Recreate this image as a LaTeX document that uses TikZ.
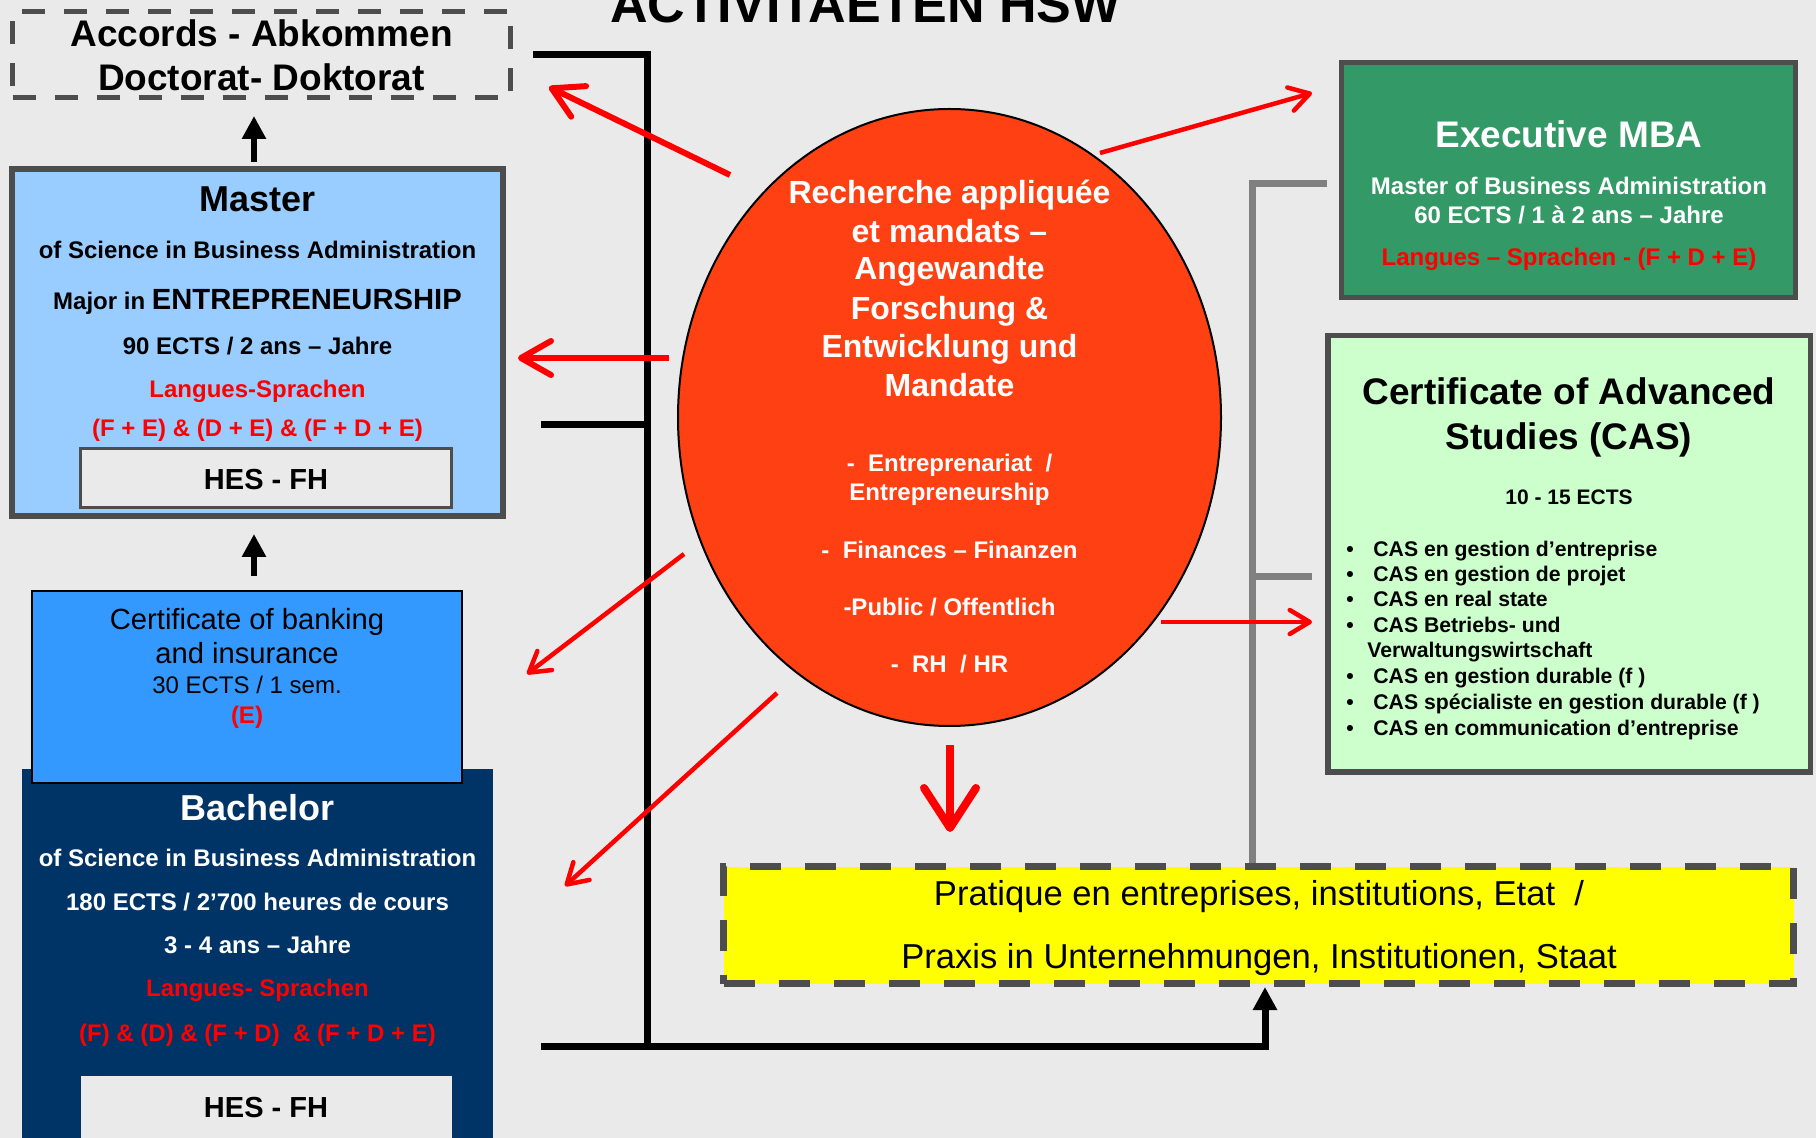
\documentclass[tikz,border=0pt]{standalone}
\usepackage{fontspec}
\setmainfont{Liberation Sans}
\usetikzlibrary{shapes.geometric,arrows.meta}

\definecolor{bgcol}{HTML}{EAEAEA}
\definecolor{boxgray}{HTML}{4D4D4D}
\definecolor{linegray}{HTML}{808080}
\definecolor{masterblue}{HTML}{99CCFF}
\definecolor{certblue}{HTML}{3399FF}
\definecolor{navy}{HTML}{003366}
\definecolor{execgreen}{HTML}{339966}
\definecolor{casgreen}{HTML}{CCFFCC}
\definecolor{rescol}{HTML}{FF4013}
\definecolor{praxyellow}{HTML}{FFFF00}

\begin{document}
\begin{tikzpicture}[x=0.5pt,y=-0.5pt,
  box/.style={draw=boxgray,line width=3pt},
  hesbox/.style={fill=bgcol,minimum width=185.5pt},
  txt/.style={inner sep=0pt,anchor=base},
  head/.style={txt,font=\bfseries\fontsize{18}{20}\selectfont},
  bold/.style={txt,font=\bfseries\fontsize{12}{14}\selectfont},
  hes/.style={txt,font=\bfseries\fontsize{14.5}{16}\selectfont},
  castxt/.style={txt,font=\bfseries\fontsize{10.6}{12}\selectfont},
  blackline/.style={line width=3.5pt},
  grayline/.style={draw=linegray,line width=3.5pt},
  uparrow/.style={line width=3pt,-{Triangle[length=11.5pt,width=11.5pt]}},
  bigred/.style={draw=red,line width=3pt,-{Straight Barb[length=15pt,width=17pt,round]}},
  thinred/.style={draw=red,line width=2.25pt,-{Straight Barb[length=10pt,width=12pt,round]}}]
\useasboundingbox (0,0) rectangle (1816,1138);
\clip (0,0) rectangle (1816,1138);
\fill[bgcol] (0,0) rectangle (1816,1138);

% title
\node[txt,font=\bfseries\fontsize{26}{28}\selectfont] (title) at (865.5,22.7) {ACTIVITAETEN HSW};

% left column
\node[draw=boxgray,line width=2.5pt,dash pattern=on 11.5pt off 9.5pt,
  minimum width=249pt,minimum height=43pt] (accords) at (261.5,54.5) {};
\node[txt,font=\bfseries\fontsize{18.5}{20}\selectfont] (acc1) at (261.5,47) {Accords - Abkommen};
\node[txt,font=\bfseries\fontsize{18.5}{20}\selectfont] (acc2) at (261.5,91) {Doctorat- Doktorat};

\node[box,fill=masterblue,minimum width=245.5pt,minimum height=173.5pt] (master) at (257.5,342.5) {};
\node[head] (m1) at (257.5,212) {Master};
\node[bold] (m2) at (257.5,259) {of Science in Business Administration};
\node[bold] (m3) at (257.5,310) {Major in {\fontsize{14.6}{16}\selectfont ENTREPRENEURSHIP}};
\node[bold] (m4) at (257.5,355) {90 ECTS / 2 ans – Jahre};
\node[bold,red] (m5) at (257.5,398) {Langues-Sprachen};
\node[bold,red] (m6) at (257.5,437) {(F + E) \& (D + E) \& (F + D + E)};
\node[hesbox,draw=boxgray,line width=1.4pt,minimum height=29.5pt] (hesM) at (266,478) {};
\node[hes] (hesMt) at (266,490) {HES - FH};

\node[fill=navy,minimum width=235.5pt,minimum height=195.5pt] (bachelor) at (257.5,964.5) {};
\node[hesbox,minimum height=42pt] (hesB) at (266,1118) {};
\node[hes] (hesBt) at (266,1117) {HES - FH};
\node[head,white] (b1) at (257.5,820) {Bachelor};
\node[bold,white] (b2) at (257.5,866) {of Science in Business Administration};
\node[bold,white] (b3) at (257.5,910) {180 ECTS / 2’700 heures de cours};
\node[bold,white] (b4) at (257.5,953) {3 - 4 ans – Jahre};
\node[bold,red] (b5) at (257.5,996) {Langues- Sprachen};
\node[bold,red] (b6) at (257.5,1041) {(F) \& (D) \& (F + D)\ \ \& (F + D + E)};

\node[draw=black,line width=1pt,fill=certblue,minimum width=215pt,minimum height=96pt] (cert) at (247,687) {};
\node[txt,font=\fontsize{14.6}{16}\selectfont] (c1) at (247,630) {Certificate of banking};
\node[txt,font=\fontsize{14.6}{16}\selectfont] (c2) at (247,664) {and insurance};
\node[txt,font=\fontsize{12}{14}\selectfont] (c3) at (247,694) {30 ECTS / 1 sem.};
\node[bold,red] (c4) at (247,724) {(E)};

% brackets
\coordinate (bkTop) at (533,55);
\coordinate (bkCorner) at (647,55);
\coordinate (bkMid) at (541,425);
\coordinate (bkFoot) at (647,1046);
\coordinate (bkLeft) at (541,1046);
\coordinate (bkRight) at (1265,1046);
\coordinate (gTop) at (1327,184);
\coordinate (gCorner) at (1252,184);
\coordinate (gMid) at (1312,577);

% right column
\node[box,line width=2.5pt,fill=execgreen,minimum width=227pt,minimum height=117.5pt] (exec) at (1568.5,180) {};
\node[txt,white,font=\bfseries\fontsize{18.5}{20}\selectfont] (e1) at (1569,148) {Executive MBA};
\node[bold,white] (e2) at (1569,195) {Master of Business Administration};
\node[bold,white] (e3) at (1569,224) {60 ECTS / 1 à 2 ans – Jahre};
\node[bold,red] (e4) at (1569,266) {Langues – Sprachen - (F + D + E)};

\node[box,line width=2.75pt,fill=casgreen,minimum width=241.25pt,minimum height=218.25pt] (cas) at (1569,554) {};
\node[txt,font=\bfseries\fontsize{18.5}{20}\selectfont] (cas1) at (1569,405) {Certificate of Advanced};
\node[txt,font=\bfseries\fontsize{18.5}{20}\selectfont] (cas2) at (1569,450) {Studies (CAS)};
\node[txt,font=\bfseries\fontsize{10.5}{12}\selectfont] (cas3) at (1569,505) {10 - 15 ECTS};
\foreach \yy/\lbl [count=\i] in {557/{CAS en gestion d’entreprise},582/{CAS en gestion de projet},
    607/{CAS en real state},633/{CAS Betriebs- und},684/{CAS en gestion durable (f )},
    710/{CAS spécialiste en gestion durable (f )},735/{CAS en communication d’entreprise}}{
  \node[castxt] (bul\i) at (1350,\yy) {\textbullet};
  \node[castxt,anchor=base west] (item\i) at (1373,\yy) {\lbl};
}
\node[castxt,anchor=base west] (item8) at (1367,658) {Verwaltungswirtschaft};

\node[draw=boxgray,line width=3.5pt,dash pattern=on 15.5pt off 12pt,fill=praxyellow,
  minimum width=535pt,minimum height=58.5pt] (prax) at (1258.5,925) {};
\node[txt,font=\fontsize{17.3}{19}\selectfont] (p1) at (1259,905) {Pratique en entreprises, institutions, Etat\ \ /};
\node[txt,font=\fontsize{17.3}{19}\selectfont] (p2) at (1259,968) {Praxis in Unternehmungen, Institutionen, Staat};

% lines
\draw[blackline] (bkTop) -- (bkCorner) -- (bkFoot);
\draw[blackline] (bkMid) -- (bkMid -| bkCorner);
\draw[blackline,-{Triangle[length=11.5pt,width=11.5pt]}] (bkLeft) -- (bkRight) -- (prax.south -| bkRight);
\draw[grayline] (gTop) -- (gCorner) -- (prax.north -| gCorner);
\draw[grayline] (gMid) -- (gMid -| gCorner);

\coordinate (mUp) at (254,162);
\coordinate (aDown) at (254,116);
\coordinate (cUp) at (254,576);
\coordinate (mDown) at (254,534);
\draw[uparrow] (mUp) -- (aDown);
\draw[uparrow] (cUp) -- (mDown);

% research
\node[ellipse,draw=black,line width=1pt,fill=rescol,minimum width=271.5pt,minimum height=308.5pt] (research) at (949.5,417.5) {};
\foreach \yy/\lbl [count=\i] in {204/{Recherche appliquée},243/{et mandats –},280/{Angewandte},
    320/{Forschung \&},358/{Entwicklung und},397/{Mandate}}
  \node[txt,white,font=\bfseries\fontsize{16}{18}\selectfont] (rt\i) at (949.5,\yy) {\lbl};
\foreach \yy/\lbl [count=\i] in {472/{-\ \ Entreprenariat\ \ /},501/{Entrepreneurship},
    559/{-\ \ Finances – Finanzen},616/{-Public / Offentlich},673/{-\ \ RH\ \ / HR}}
  \node[bold,white] (rl\i) at (949.5,\yy) {\lbl};

% red arrows
\coordinate (fromAcc) at (730,175);
\coordinate (toAcc) at (549,87);
\coordinate (fromMaster) at (669,358);
\coordinate (toMaster) at (518,358);
\coordinate (fromCert) at (684,554);
\coordinate (toCert) at (527,674);
\coordinate (fromBach) at (777,693);
\coordinate (toBach) at (565,886);
\coordinate (fromExec) at (1100,153);
\coordinate (toExec) at (1312,93);
\coordinate (fromCas) at (1161,622);
\coordinate (toCas) at (1312,622);
\coordinate (fromPrax) at (950,745);
\coordinate (toPrax) at (950,832);
\draw[bigred] (fromAcc) -- (toAcc);
\draw[bigred] (fromMaster) -- (toMaster);
\draw[thinred] (fromCert) -- (toCert);
\draw[thinred] (fromBach) -- (toBach);
\draw[thinred] (fromExec) -- (toExec);
\draw[thinred] (fromCas) -- (toCas);
\draw[draw=red,line width=4pt,-{Straight Barb[length=20pt,width=26pt,round]}] (fromPrax) -- (toPrax);
\end{tikzpicture}
\end{document}
